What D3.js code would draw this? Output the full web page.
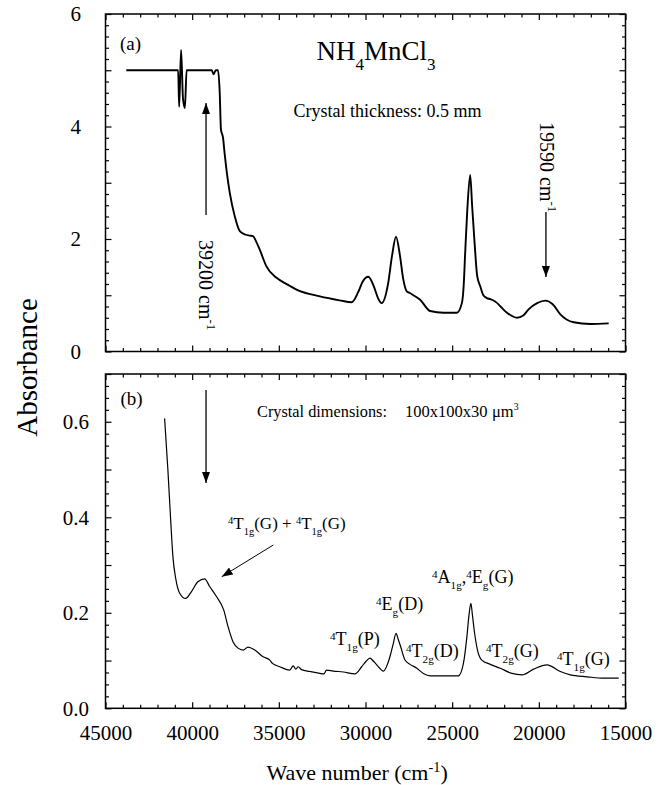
<!DOCTYPE html>
<html>
<head>
<meta charset="utf-8">
<script src="https://cdn.jsdelivr.net/npm/d3@7/dist/d3.min.js"></script>
<style>
  body { margin: 0; background: #fff; }
  svg { display: block; }
  text { font-family: "Liberation Serif", "Times New Roman", Times, serif; fill: #000; white-space: pre; }
</style>
</head>
<body>
<script>
// ---------------- DATA ----------------
// x ticks (wave number, cm-1)
const xTickValues = [45000, 40000, 35000, 30000, 25000, 20000, 15000];
// panel (a): 0.5 mm crystal
const waveTop = [
  43800, 40810, 40750, 40640, 40530, 40420, 40320, 38870, 38760, 38640,
  38510, 38410, 38340, 38220, 38120, 38020, 37830, 37540, 37250, 36950,
  36680, 36490, 36300, 36100, 35710, 35130, 34500, 33980, 32630, 31500,
  30800, 30430, 30150, 29840, 29510, 29280, 29070, 28700, 28470, 28240,
  28010, 27830, 27620, 27440, 27240, 26850, 26270, 25500, 24730, 24440,
  24340, 24250, 24130, 23960, 23850, 23700, 23560, 23380, 23200, 23000,
  22800, 22520, 21840, 21260, 20900, 20590, 20100, 19630, 19200, 18760,
  18400, 17990, 17030, 15970
];
const absTop = [
  5.0, 5.0, 4.35, 5.36, 4.5, 4.33, 5.0, 5.0, 4.93, 5.0,
  5.0, 4.6, 3.95, 3.8, 3.5, 3.23, 2.82, 2.40, 2.14, 2.08,
  2.06, 2.05, 1.95, 1.81, 1.51, 1.31, 1.19, 1.10, 0.98, 0.91,
  0.875, 1.05, 1.25, 1.33, 1.15, 0.95, 0.86, 1.2, 1.7, 2.04,
  1.7, 1.3, 1.07, 1.04, 1.0, 0.92, 0.72, 0.69, 0.69, 0.86,
  1.15, 1.75, 2.5, 3.14, 2.6, 1.9, 1.35, 1.16, 1.0, 0.95,
  0.93, 0.89, 0.69, 0.60, 0.64, 0.75, 0.86, 0.905, 0.84, 0.66,
  0.57, 0.52, 0.49, 0.50
];
const yTopLabels = [0, 2, 4, 6];
// panel (b): 100x100x30 um^3 crystal
const waveBot = [
  41590, 41400, 41240, 41110, 40950, 40720, 40380, 40050, 39670, 39280,
  38990, 38600, 38180, 37930, 37640, 37350, 37060, 36780, 36390, 35910,
  35520, 35370, 34940, 34370, 34170, 34020, 33890, 33690, 33210, 32630,
  32400, 32250, 31860, 31280, 30610, 30220, 29980, 29740, 29550, 29350,
  28970, 28590, 28400, 28240, 28100, 27970, 27720, 27430, 27040, 26660,
  26270, 25500, 24640, 24350, 24150, 24030, 23920, 23830, 23730, 23540,
  23290, 22800, 22230, 21550, 20970, 20300, 19530, 18760, 18180, 17220,
  16260, 15390
];
const absBot = [
  0.607, 0.499, 0.394, 0.317, 0.272, 0.241, 0.230, 0.244, 0.265, 0.271,
  0.255, 0.234, 0.206, 0.171, 0.139, 0.126, 0.122, 0.128, 0.122, 0.108,
  0.101, 0.094, 0.087, 0.080, 0.089, 0.082, 0.087, 0.081, 0.077, 0.073,
  0.072, 0.080, 0.078, 0.076, 0.072, 0.087, 0.098, 0.105, 0.099, 0.091,
  0.078, 0.108, 0.135, 0.157, 0.143, 0.129, 0.101, 0.092, 0.084, 0.073,
  0.068, 0.068, 0.068, 0.094, 0.150, 0.195, 0.220, 0.195, 0.164, 0.122,
  0.101, 0.092, 0.084, 0.073, 0.070, 0.082, 0.091, 0.077, 0.070, 0.066,
  0.063, 0.063
];
const yBotLabels = [0.0, 0.2, 0.4, 0.6];
// arrow positions (cm-1)
const arrowEdge = 39200;
const arrowBand = 19590;

// ---------------- LAYOUT ----------------
const W = 669, H = 785;
const FONT = '"Liberation Serif", "Times New Roman", Times, serif';
const svg = d3.select("body").append("svg").attr("width", W).attr("height", H);

const x = d3.scaleLinear().domain([45000, 15000]).range([105.5, 625.5]);
const yTop = d3.scaleLinear().domain([0, 6]).range([351.5, 14]);
const yBot = d3.scaleLinear().domain([0, 0.7]).range([708.3, 374]);

const xMinor = d3.range(15000, 45001, 1000).filter(v => v % 5000 !== 0);
const yTopMajor = d3.range(0, 7);
const yTopMinor = d3.range(0, 31).map(i => i * 0.2).filter((v, i) => i % 5 !== 0);
const yBotMajor = d3.range(0, 8).map(i => i / 10);
const yBotMinor = d3.range(0, 29).map(i => i * 0.025).filter((v, i) => i % 4 !== 0);

const MAJ = 6, MIN = 3.5;

function axisGroup(g, axis, tr) {
  const a = g.append("g").attr("transform", tr).call(axis);
  a.select(".domain").remove();
  a.attr("font-family", FONT).attr("font-size", 21);
  a.selectAll("line").attr("stroke", "#000").attr("stroke-width", 1.2);
  a.selectAll("text").attr("fill", "#000");
  return a;
}

function drawFrame(y, yMajor, yMinor, yLabels, fmt, lblPad, xLabels) {
  const g = svg.append("g");
  const L = x.range()[0], R = x.range()[1], B = y.range()[0], T = y.range()[1];
  const isLab = d => yLabels.some(v => Math.abs(v - d) < 1e-9);
  // bottom
  axisGroup(g, d3.axisBottom(x).tickValues(xTickValues).tickSize(-MAJ).tickPadding(17)
    .tickFormat(xLabels ? d3.format("d") : () => ""), `translate(0,${B})`);
  axisGroup(g, d3.axisBottom(x).tickValues(xMinor).tickSize(-MIN).tickFormat(() => ""), `translate(0,${B})`);
  // top
  axisGroup(g, d3.axisTop(x).tickValues(xTickValues).tickSize(-MAJ).tickFormat(() => ""), `translate(0,${T})`);
  axisGroup(g, d3.axisTop(x).tickValues(xMinor).tickSize(-MIN).tickFormat(() => ""), `translate(0,${T})`);
  // left
  axisGroup(g, d3.axisLeft(y).tickValues(yMajor).tickSize(-MAJ).tickPadding(lblPad)
    .tickFormat(d => isLab(d) ? fmt(d) : ""), `translate(${L},0)`);
  axisGroup(g, d3.axisLeft(y).tickValues(yMinor).tickSize(-MIN).tickFormat(() => ""), `translate(${L},0)`);
  // right
  axisGroup(g, d3.axisRight(y).tickValues(yMajor).tickSize(-MAJ).tickFormat(() => ""), `translate(${R},0)`);
  axisGroup(g, d3.axisRight(y).tickValues(yMinor).tickSize(-MIN).tickFormat(() => ""), `translate(${R},0)`);
  g.append("rect").attr("x", L).attr("y", T).attr("width", R - L).attr("height", B - T)
    .attr("fill", "none").attr("stroke", "#000").attr("stroke-width", 1.5);
  return g;
}

drawFrame(yTop, yTopMajor, yTopMinor, yTopLabels, d3.format("d"), 24.5, false);
drawFrame(yBot, yBotMajor, yBotMinor, yBotLabels, d3.format(".1f"), 16.5, true);

// curves
const lineTop = d3.line().x((d, i) => x(waveTop[i])).y((d, i) => yTop(absTop[i])).curve(d3.curveMonotoneX);
svg.append("path").attr("d", lineTop(waveTop)).attr("fill", "none").attr("stroke", "#000")
  .attr("stroke-width", 1.9).attr("stroke-linejoin", "round");
const lineBot = d3.line().x((d, i) => x(waveBot[i])).y((d, i) => yBot(absBot[i])).curve(d3.curveMonotoneX);
svg.append("path").attr("d", lineBot(waveBot)).attr("fill", "none").attr("stroke", "#000")
  .attr("stroke-width", 1.2).attr("stroke-linejoin", "round");

// arrow marker
const defs = svg.append("defs");
defs.append("marker").attr("id", "ah").attr("markerUnits", "userSpaceOnUse")
  .attr("markerWidth", 12).attr("markerHeight", 8).attr("refX", 11).attr("refY", 4)
  .attr("orient", "auto")
  .append("path").attr("d", "M0,0 L11,4 L0,8 Z").attr("fill", "#000");

function arrow(x1, y1, x2, y2, w) {
  svg.append("line").attr("x1", x1).attr("y1", y1).attr("x2", x2).attr("y2", y2)
    .attr("stroke", "#000").attr("stroke-width", w || 1.3).attr("marker-end", "url(#ah)");
}
arrow(x(arrowEdge), 215, x(arrowEdge), 103);
arrow(x(arrowBand), 212, x(arrowBand), 277);
arrow(x(arrowEdge), 390, x(arrowEdge), 483);
arrow(273.3, 545, 221.7, 576.7, 1.0);

// rich text helper
function rich(parent, xx, yy, size, parts, opts) {
  opts = opts || {};
  const t = parent.append("text").attr("x", xx).attr("y", yy).attr("font-size", size)
    .attr("font-family", FONT);
  if (opts.transform) t.attr("transform", opts.transform);
  let cur = 0;
  parts.forEach(p => {
    let target = 0, fs = size;
    if (p.sup) { target = -size * (p.shift || 0.3); fs = size * (p.scale || 0.62); }
    if (p.sub) { target = size * (p.shift || 0.33); fs = size * (p.scale || 0.62); }
    t.append("tspan").attr("font-size", fs).attr("dy", target - cur).text(p.t);
    cur = target;
  });
  return t;
}
const S = t => ({ t, sup: true });
const B = t => ({ t, sub: true });
const N = t => ({ t });

// Panel (a) texts
rich(svg, 120, 50, 19, [N("(a)")]);
rich(svg, 316.5, 60, 27, [N("NH"), { t: "4", sub: true, shift: 0.37, scale: 0.63 }, N("MnCl"), { t: "3", sub: true, shift: 0.37, scale: 0.63 }]);
rich(svg, 293.5, 116.5, 18, [N("Crystal thickness: 0.5 mm")]);
rich(svg, 0, 0, 20, [N("39200 cm"), { t: "-1", sup: true, shift: 0.4, scale: 0.65 }], { transform: "translate(198.5,240) rotate(90)" });
rich(svg, 0, 0, 20, [N("19590 cm"), { t: "-1", sup: true, shift: 0.4, scale: 0.65 }], { transform: "translate(540,122) rotate(90)" });

// Panel (b) texts
rich(svg, 120.5, 405, 19, [N("(b)")]);
svg.append("text").attr("x", 257).attr("y", 416.5).attr("font-size", 16.5).attr("font-family", FONT)
  .attr("textLength", 130).attr("lengthAdjust", "spacingAndGlyphs").text("Crystal dimensions:");
rich(svg, 405, 416.5, 16.5, [N("100x100x30")]);
rich(svg, 492, 416.5, 16.5, [N("\u03bcm"), { t: "3", sup: true, shift: 0.42, scale: 0.6 }]);

rich(svg, 228, 529, 17, [S("4"), N("T"), B("1g"), N("(G) + "), S("4"), N("T"), B("1g"), N("(G)")]);
rich(svg, 330, 645, 18, [S("4"), N("T"), B("1g"), N("(P)")]);
rich(svg, 376, 610, 18, [S("4"), N("E"), B("g"), N("(D)")]);
rich(svg, 406, 657, 18, [S("4"), N("T"), B("2g"), N("(D)")]);
rich(svg, 432, 583, 18, [S("4"), N("A"), B("1g"), N(","), S("4"), N("E"), B("g"), N("(G)")]);
rich(svg, 486, 657, 18, [S("4"), N("T"), B("2g"), N("(G)")]);
rich(svg, 557, 665, 18, [S("4"), N("T"), B("1g"), N("(G)")]);

// axis titles
rich(svg, 266.5, 780, 22, [N("Wave number (cm"), { t: "-1", sup: true, shift: 0.38, scale: 0.65 }, N(")")]);
svg.append("text").attr("transform", "translate(36.5,367.5) rotate(-90)")
  .attr("text-anchor", "middle").attr("font-size", 29).attr("font-family", FONT).text("Absorbance");
</script>
</body>
</html>
